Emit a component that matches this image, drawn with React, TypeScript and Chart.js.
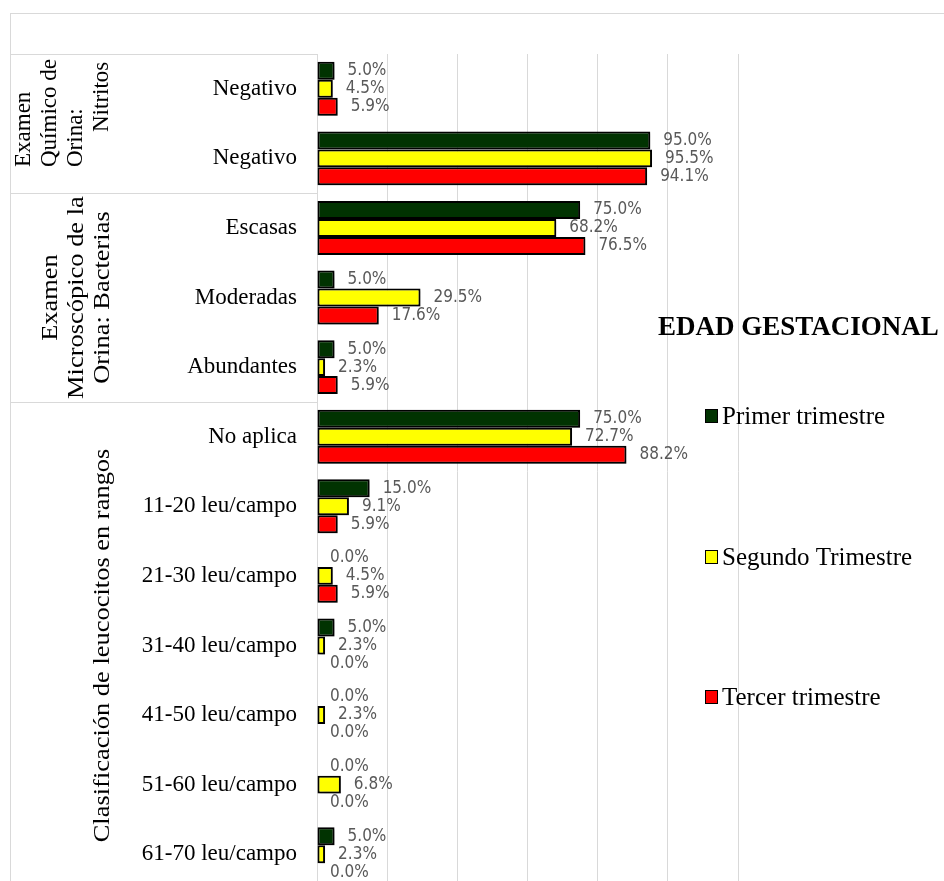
import { useEffect, useRef } from 'react';
import { Chart, registerables } from 'chart.js';

Chart.register(...registerables);

// Categories (bottom-level rows of the table-style axis)
const categories = [
  'Negativo',
  'Negativo',
  'Escasas',
  'Moderadas',
  'Abundantes',
  'No aplica',
  '11-20 leu/campo',
  '21-30 leu/campo',
  '31-40 leu/campo',
  '41-50 leu/campo',
  '51-60 leu/campo',
  '61-70 leu/campo',
];

// Percentages per trimester
const primerTrimestre = [5.0, 95.0, 75.0, 5.0, 5.0, 75.0, 15.0, 0.0, 5.0, 0.0, 0.0, 5.0];
const segundoTrimestre = [4.5, 95.5, 68.2, 29.5, 2.3, 72.7, 9.1, 4.5, 2.3, 2.3, 6.8, 2.3];
const tercerTrimestre = [5.9, 94.1, 76.5, 17.6, 5.9, 88.2, 5.9, 5.9, 0.0, 0.0, 0.0, 0.0];

const seriesNames = ['Primer trimestre', 'Segundo Trimestre', 'Tercer trimestre'];
const seriesColors = ['#013301', '#FFFF00', '#FF0000'];

// Outer category groups: wrapped title lines and number of rows in each
const groupTitles = [
  ['Examen', 'Químico de', 'Orina:', 'Nitritos'],
  ['Examen', 'Microscópico de la', 'Orina: Bacterias'],
  ['Clasificación de leucocitos en rangos'],
];
const groupSizes = [2, 3, 7];

const legendTitle = 'EDAD GESTACIONAL';
const axisMax = 120;
const axisStep = 20;

const SERIF = '"Liberation Serif", "Times New Roman", serif';
const LABEL_FONT = '"DejaVu Sans Condensed", "DejaVu Sans", sans-serif';
const LINE_GRAY = '#d9d9d9';

const CANVAS_W = 960;
const CANVAS_H = 900;

// Frame, outer group boxes and rotated group titles
const framePlugin = {
  id: 'frame',
  beforeDraw(chart: any) {
    const { ctx, chartArea, scales } = chart;
    const y = scales.y;
    ctx.save();
    ctx.fillStyle = '#ffffff';
    ctx.fillRect(0, 0, chart.width, chart.height);

    ctx.strokeStyle = LINE_GRAY;
    ctx.lineWidth = 1;
    // outer chart border
    ctx.strokeRect(10.5, 13.5, chart.width + 20, chart.height + 20);

    // group separators
    const left = 10.5;
    const right = Math.round(chartArea.left) + 0.5;
    let idx = 0;
    const bounds: number[] = [];
    bounds.push(y.getPixelForValue(-0.5));
    groupSizes.forEach((n) => {
      idx += n;
      bounds.push(y.getPixelForValue(idx - 0.5));
    });
    ctx.beginPath();
    bounds.forEach((b) => {
      const yy = Math.round(b) + 0.5;
      ctx.moveTo(left, yy);
      ctx.lineTo(right, yy);
    });
    ctx.moveTo(right, bounds[0]);
    ctx.lineTo(right, chart.height);
    ctx.stroke();

    // rotated group titles
    ctx.fillStyle = '#000000';
    ctx.textBaseline = 'middle';
    groupTitles.forEach((lines, g) => {
      const top = bounds[g];
      const bottom = bounds[g + 1];
      const cy = (top + bottom) / 2;
      const n = lines.length;
      lines.forEach((line, i) => {
        const cx = 103 - (n - 1 - i) * 26;
        ctx.save();
        if (g === 0) {
          // first box: lines anchored toward the bottom
          ctx.font = `23px ${SERIF}`;
          ctx.textAlign = 'left';
          const startY = i === 3 ? top + 78 : top + 113;
          ctx.translate(cx - 1, startY);
          ctx.rotate(-Math.PI / 2);
          ctx.fillText(line, 0, 0);
        } else {
          ctx.font = `23px ${SERIF}`;
          ctx.textAlign = 'center';
          ctx.translate(cx, cy);
          ctx.rotate(-Math.PI / 2);
          ctx.scale(1.15, 1);
          ctx.fillText(line, 0, 0);
        }
        ctx.restore();
      });
    });
    ctx.restore();
  },
};

// Drop shadow under bars, then value labels
const barDecorPlugin = {
  id: 'barDecor',
  beforeDatasetsDraw(chart: any) {
    const { ctx } = chart;
    ctx.save();
    ctx.shadowColor = 'rgba(0,0,0,0.35)';
    ctx.shadowBlur = 3;
    ctx.shadowOffsetX = 2;
    ctx.shadowOffsetY = 2;
  },
  afterDatasetsDraw(chart: any) {
    const { ctx } = chart;
    ctx.restore();
    ctx.save();
    ctx.font = `17px ${LABEL_FONT}`;
    ctx.fillStyle = '#595959';
    ctx.textAlign = 'left';
    ctx.textBaseline = 'middle';
    chart.data.datasets.forEach((ds: any, di: number) => {
      const meta = chart.getDatasetMeta(di);
      meta.data.forEach((el: any, i: number) => {
        const v = ds.data[i] as number;
        ctx.fillText(`${v.toFixed(1)}%`, el.x + 13, el.y);
      });
    });
    ctx.restore();
  },
};

// Legend with title, overlaid on the right side
const legendPlugin = {
  id: 'sideLegend',
  afterDraw(chart: any) {
    const { ctx } = chart;
    ctx.save();
    ctx.fillStyle = '#000000';
    ctx.textBaseline = 'middle';
    ctx.textAlign = 'left';
    ctx.font = `bold 27px ${SERIF}`;
    ctx.fillText(legendTitle, 658, 328);

    const rows = [416, 557, 697];
    ctx.font = `25px ${SERIF}`;
    chart.data.datasets.forEach((ds: any, i: number) => {
      const yy = rows[i];
      ctx.fillStyle = ds.backgroundColor;
      ctx.fillRect(705, yy - 7, 13, 14);
      ctx.strokeStyle = '#000000';
      ctx.lineWidth = 1;
      ctx.strokeRect(705.5, yy - 6.5, 12, 13);
      ctx.fillStyle = '#000000';
      ctx.fillText(ds.label, 722, yy + 1);
    });
    ctx.restore();
  },
};

export default function App() {
  const canvasRef = useRef<HTMLCanvasElement | null>(null);

  useEffect(() => {
    const canvas = canvasRef.current;
    if (!canvas) return;
    const seriesData = [primerTrimestre, segundoTrimestre, tercerTrimestre];
    const chart = new Chart(canvas, {
      type: 'bar',
      data: {
        labels: categories,
        datasets: seriesData.map((d, i) => ({
          label: seriesNames[i],
          data: d,
          backgroundColor: seriesColors[i],
          borderColor: '#000000',
          borderWidth: 2,
          borderSkipped: false,
          categoryPercentage: 0.776,
          barPercentage: 1.0,
        })),
      },
      options: {
        indexAxis: 'y',
        responsive: false,
        maintainAspectRatio: false,
        animation: false,
        devicePixelRatio: 1,
        layout: {
          padding: { left: 10, top: 54, right: CANVAS_W - 738, bottom: CANVAS_H - 889 },
        },
        plugins: {
          legend: { display: false },
          tooltip: { enabled: false },
          title: { display: false },
        },
        scales: {
          x: {
            min: 0,
            max: axisMax,
            ticks: { display: false, stepSize: axisStep },
            grid: { color: LINE_GRAY, lineWidth: 1, drawTicks: false },
            border: { display: false },
            afterFit: (s: any) => {
              s.height = 0;
              s.paddingLeft = 0;
              s.paddingRight = 0;
            },
          },
          y: {
            grid: { display: false, drawTicks: false },
            border: { display: false },
            ticks: {
              color: '#000000',
              font: { family: SERIF, size: 23 },
              padding: 20,
              autoSkip: false,
            },
            afterFit: (s: any) => {
              s.width = 307;
              s.paddingTop = 0;
              s.paddingBottom = 0;
            },
          },
        },
      },
      plugins: [framePlugin, barDecorPlugin, legendPlugin],
    });
    return () => chart.destroy();
  }, []);

  return (
    <div
      style={{
        position: 'fixed',
        left: 0,
        top: 0,
        width: 944,
        height: 881,
        overflow: 'hidden',
        background: '#ffffff',
      }}
    >
      <canvas
        ref={canvasRef}
        width={CANVAS_W}
        height={CANVAS_H}
        style={{ width: CANVAS_W, height: CANVAS_H, display: 'block' }}
      />
    </div>
  );
}
